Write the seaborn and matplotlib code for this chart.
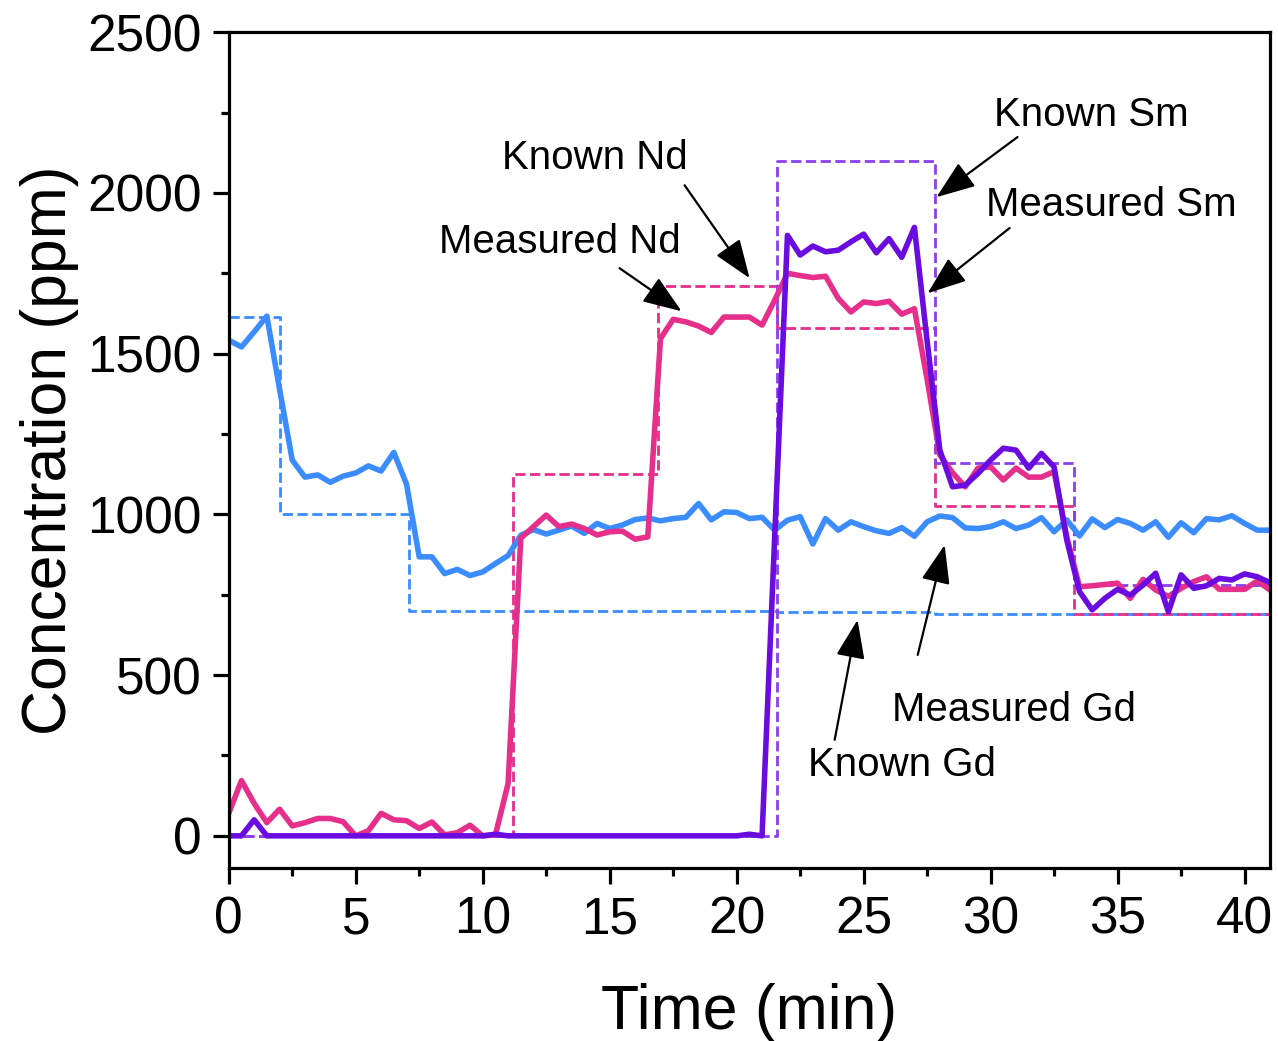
import numpy as np
import pandas as pd
import matplotlib
matplotlib.use("Agg")
import matplotlib.pyplot as plt
from matplotlib.ticker import MultipleLocator
import seaborn as sns

# measured data, sampled every 0.5 min
time_min = [0, 0.5, 1, 1.5, 2, 2.5, 3, 3.5, 4, 4.5, 5, 5.5, 6, 6.5, 7, 7.5, 8, 8.5, 9, 9.5,
            10, 10.5, 11, 11.5, 12, 12.5, 13, 13.5, 14, 14.5, 15, 15.5, 16, 16.5, 17, 17.5, 18, 18.5, 19, 19.5,
            20, 20.5, 21, 21.5, 22, 22.5, 23, 23.5, 24, 24.5, 25, 25.5, 26, 26.5, 27, 27.5, 28, 28.5, 29, 29.5,
            30, 30.5, 31, 31.5, 32, 32.5, 33, 33.5, 34, 34.5, 35, 35.5, 36, 36.5, 37, 37.5, 38, 38.5, 39, 39.5,
            40, 40.5, 41]

meas_gd = [1542, 1521, 1568, 1617, 1390, 1169, 1116, 1123, 1100, 1119, 1129, 1151, 1135, 1193, 1094, 868, 868, 816, 829, 810,
           821, 847, 872, 935, 953, 939, 951, 964, 941, 972, 956, 967, 984, 989, 980, 987, 991, 1034, 983, 1008,
           1006, 987, 991, 951, 982, 993, 908, 987, 951, 977, 962, 949, 941, 959, 932, 977, 995, 990, 958, 956,
           962, 977, 956, 967, 990, 946, 983, 933, 986, 959, 984, 972, 951, 977, 929, 974, 943, 987, 983, 996,
           972, 951, 951]

meas_nd = [70, 172, 101, 41, 83, 31, 41, 54, 54, 44, 0, 16, 70, 50, 47, 23, 43, 3, 10, 33,
           0, 3, 163, 926, 962, 998, 962, 970, 956, 936, 946, 948, 923, 930, 1547, 1607, 1599, 1586, 1566, 1614,
           1614, 1614, 1589, 1667, 1750, 1743, 1737, 1741, 1672, 1630, 1661, 1656, 1663, 1623, 1640, 1420, 1185, 1130, 1086, 1144,
           1148, 1107, 1144, 1116, 1116, 1133, 930, 775, 778, 782, 786, 739, 798, 765, 745, 770, 791, 806, 767, 767,
           767, 793, 765]

meas_sm = [0, 0, 50, 0, 0, 0, 0, 0, 0, 0, 0, 0, 0, 0, 0, 0, 0, 0, 0, 0,
           0, 5, 0, 0, 0, 0, 0, 0, 0, 0, 0, 0, 0, 0, 0, 0, 0, 0, 0, 0,
           0, 5, 0, 935, 1868, 1807, 1835, 1817, 1822, 1848, 1872, 1814, 1858, 1800, 1893, 1540, 1200, 1086, 1091, 1127,
           1169, 1206, 1200, 1144, 1190, 1148, 920, 760, 703, 739, 767, 749, 780, 817, 697, 812, 770, 778, 801, 796,
           815, 806, 788]

# known (reference) concentrations, step changes
known_t = [0, 2.0, 7.1, 11.2, 16.9, 21.6, 27.8, 33.3, 41]
known_gd = [1615, 1000, 700, 700, 700, 697, 690, 690, 690]
known_nd = [0, 0, 0, 1125, 1710, 1580, 1025, 690, 690]
known_sm = [0, 0, 0, 0, 0, 2100, 1160, 780, 780]

c_gd = "#3a8cff"
c_nd = "#e62e8b"
c_sm = "#6a0be0"
c_sm_known = "#8a3ff0"

sns.set_style("ticks")
plt.rcParams["font.family"] = ["Liberation Sans", "DejaVu Sans"]
plt.rcParams["text.color"] = "black"
plt.rcParams["axes.labelcolor"] = "black"
plt.rcParams["xtick.color"] = "black"
plt.rcParams["ytick.color"] = "black"

fig = plt.figure(figsize=(12.78, 10.41), dpi=100)
ax = fig.add_axes([0.179, 0.1662, 0.8147, 0.8028])

dash_kw = dict(linestyle="--", dashes=(2.6, 1.5), lw=2.0, drawstyle="steps-post")
sns.lineplot(x=known_t, y=known_gd, color=c_gd, ax=ax, **dash_kw)
sns.lineplot(x=known_t, y=known_nd, color=c_nd, ax=ax, **dash_kw)
sns.lineplot(x=known_t, y=known_sm, color=c_sm_known, ax=ax, **dash_kw)

sns.lineplot(x=time_min, y=meas_gd, color=c_gd, lw=4.0, ax=ax)
sns.lineplot(x=time_min, y=meas_nd, color=c_nd, lw=4.0, ax=ax)
sns.lineplot(x=time_min, y=meas_sm, color=c_sm, lw=4.0, ax=ax)

ax.set_xlim(0, 41)
ax.set_ylim(-100, 2500)
ax.xaxis.set_major_locator(MultipleLocator(5))
ax.xaxis.set_minor_locator(MultipleLocator(2.5))
ax.yaxis.set_major_locator(MultipleLocator(500))
ax.yaxis.set_minor_locator(MultipleLocator(250))
ax.tick_params(which="major", direction="out", length=11.5, width=2.3, labelsize=37, pad=8)
ax.tick_params(which="minor", direction="out", length=6, width=2.3)
for s in ax.spines.values():
    s.set_linewidth(2.3)
    s.set_color("black")

ax.set_xlabel("Time (min)", fontsize=45, labelpad=28)
ax.set_ylabel("Concentration (ppm)", fontsize=45, labelpad=6)

labels = [("Known Sm", 33.98, 2242), ("Measured Sm", 34.76, 1962),
          ("Known Nd", 14.41, 2108), ("Measured Nd", 13.03, 1847),
          ("Measured Gd", 30.94, 392), ("Known Gd", 26.50, 221)]
arrows = [((31.06, 2174), (27.87, 1987)), ((30.75, 1891), (27.52, 1688)),
          ((17.95, 2024), (20.51, 1735)), ((15.39, 1766), (17.83, 1632)),
          ((27.13, 563), (28.19, 905)), ((23.86, 299), (24.76, 672))]

for txt, x, y in labels:
    ax.text(x, y, txt, fontsize=29, ha="center", va="center")
for tail, tip in arrows:
    ax.annotate("", xy=tip, xytext=tail,
                arrowprops=dict(arrowstyle="-|>,head_length=1.2,head_width=0.45",
                                mutation_scale=20, lw=1.6, color="black",
                                shrinkA=0, shrinkB=0))

fig.savefig("out.png", dpi=100)
